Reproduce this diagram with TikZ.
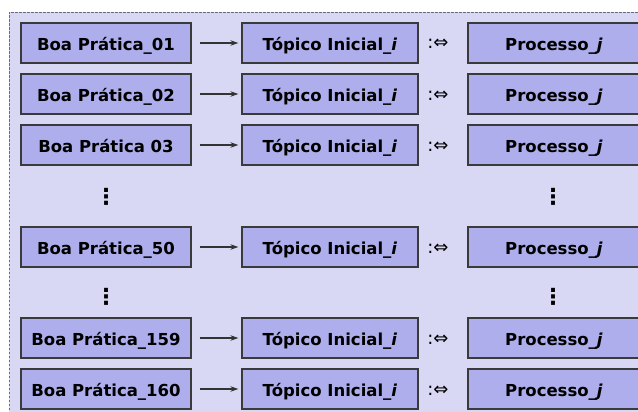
\documentclass[tikz,border=0pt]{standalone}
\usepackage{fontspec}
\setmainfont{DejaVu Sans}
\usetikzlibrary{arrows.meta}
\definecolor{bgc}{HTML}{D8D8F5}
\definecolor{boxc}{HTML}{AEAEEC}
\definecolor{edgec}{HTML}{3A3A3A}
\definecolor{dashc}{HTML}{6A6A7A}
\begin{document}
\begin{tikzpicture}[x=1pt,y=-1pt,
  box/.style={draw=edgec, fill=boxc, line width=1.3pt, minimum height=40pt, inner sep=0pt,
    text height=16pt, text depth=1pt,
    font=\fontsize{16.5}{18}\selectfont\bfseries},
  lbox/.style={box, minimum width=170pt},
  mbox/.style={box, minimum width=176pt},
  rbox/.style={box, minimum width=172pt},
  equiv/.style={inner sep=0pt, anchor=base, font=\fontsize{18}{18}\selectfont},
  vdot/.style={inner sep=0pt, font=\fontsize{22}{22}\selectfont\bfseries},
  conn/.style={-{Stealth[length=8pt,width=5.5pt]}, line width=1.1pt, draw=black!80,
    shorten <=8pt, shorten >=3pt}
]
\useasboundingbox (0,0) rectangle (638,412);
\clip (0,0) rectangle (638,412);
\fill[bgc] (9,12) rectangle (660,430);
\draw[dashc, line width=0.9pt, dash pattern=on 2.5pt off 1.5pt] (9,430) -- (9,12) -- (660,12);

\foreach \n/\lab/\y in {1/Boa Prática\_01/43, 2/Boa Prática\_02/94, 3/Boa Prática 03/145,
    4/Boa Prática\_50/247, 5/Boa Prática\_159/338, 6/Boa Prática\_160/389}{
  \node[lbox] (l\n) at (106,\y) {\lab};
  \node[mbox] (m\n) at (330,\y) {Tópico Inicial\_\textit{i}};
  \node[equiv] (e\n) at (438,\y+6) {:⇔};
  \node[rbox] (r\n) at (554,\y) {Processo\_\textit{j}};
  \draw[conn] (l\n) -- (m\n);
}
\node[vdot] (dl1) at (106,197) {⋮};
\node[vdot] (dr1) at (553,197) {⋮};
\node[vdot] (dl2) at (106,297) {⋮};
\node[vdot] (dr2) at (553,297) {⋮};
\end{tikzpicture}
\end{document}
